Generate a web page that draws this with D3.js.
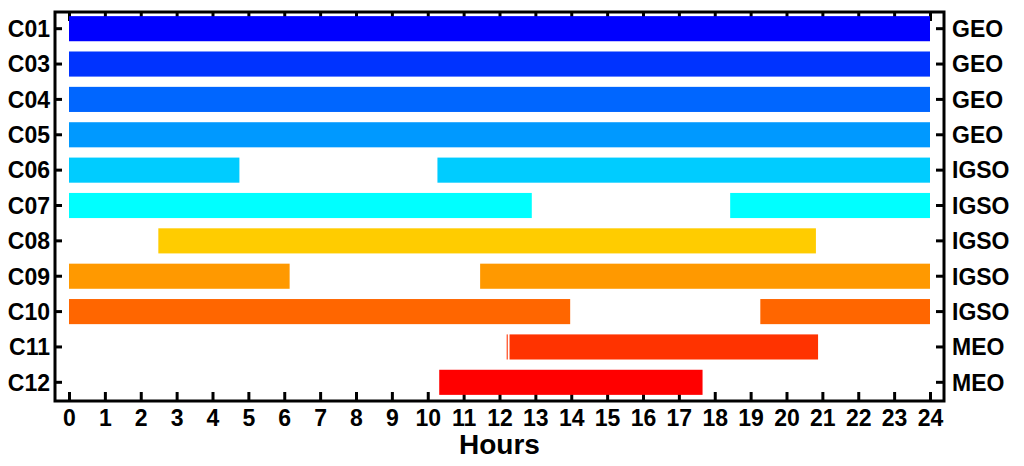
<!DOCTYPE html>
<html lang="en">
<head>
    <meta charset="UTF-8">
    <title>Satellite visibility</title>
    <script src="https://cdnjs.cloudflare.com/ajax/libs/d3/7.8.5/d3.js"></script>
    <style>
        body { margin: 0; background: #fff; }
        svg text { font-family: "Liberation Sans", Arial, sans-serif; font-weight: bold; fill: #000; }
    </style>
</head>
<body>
<svg width="1024" height="466"></svg>

<script>
    // satellites, orbit type and visible windows (hours)
    const satellites = ["C01", "C03", "C04", "C05", "C06", "C07", "C08", "C09", "C10", "C11", "C12"];
    const orbits = ["GEO", "GEO", "GEO", "GEO", "IGSO", "IGSO", "IGSO", "IGSO", "IGSO", "MEO", "MEO"];
    const windows = [
        [[0, 24]],
        [[0, 24]],
        [[0, 24]],
        [[0, 24]],
        [[0, 4.75], [10.27, 24]],
        [[0, 12.9], [18.43, 24]],
        [[2.49, 20.82]],
        [[0, 6.15], [11.46, 24]],
        [[0, 13.97], [19.27, 24]],
        [[12.2, 12.23], [12.28, 20.88]],
        [[10.32, 17.66]]
    ];
    const hourTicks = d3.range(0, 25);

    const colors = ["#0000ff", "#0033ff", "#0066ff", "#0099ff", "#00ccff", "#00ffff",
                    "#ffcc00", "#ff9900", "#ff6600", "#ff3300", "#ff0000"];

    const svg = d3.select("svg");
    const frame = {left: 55, right: 944, top: 12, bottom: 401};

    const x = d3.scaleLinear().domain([0, 24]).range([69, 930]);
    const y = d3.scaleBand().domain(satellites).range([11, 400]).padding(0);
    const barH = y.bandwidth() * 0.71;

    // axes (ticks point inward)
    const axBottom = svg.append("g")
        .attr("transform", `translate(0,${frame.bottom})`)
        .call(d3.axisBottom(x).tickValues(hourTicks).tickSizeInner(-9).tickSizeOuter(0).tickPadding(9));
    const axTop = svg.append("g")
        .attr("transform", `translate(0,${frame.top})`)
        .call(d3.axisTop(x).tickValues(hourTicks).tickSizeInner(-9).tickSizeOuter(0).tickFormat(""));
    const axLeft = svg.append("g")
        .attr("transform", `translate(${frame.left},0)`)
        .call(d3.axisLeft(y).tickSizeInner(-7).tickSizeOuter(0).tickPadding(5));
    const axRight = svg.append("g")
        .attr("transform", `translate(${frame.right},0)`)
        .call(d3.axisRight(y).tickSizeInner(-8).tickSizeOuter(0).tickPadding(8)
            .tickFormat((d, i) => orbits[i]));

    [axBottom, axTop, axLeft, axRight].forEach(g => {
        g.select(".domain").remove();
        g.selectAll(".tick line").attr("stroke", "#000").attr("stroke-width", 3);
        g.selectAll(".tick text").attr("font-size", 23).attr("fill", "#000");
    });
    axLeft.selectAll(".tick text").attr("dy", "0.36em");
    axRight.selectAll(".tick text").attr("dy", "0.36em");

    // bars
    svg.append("g")
        .selectAll("g")
        .data(satellites)
        .join("g")
        .each(function(s, i) {
            d3.select(this).selectAll("rect")
                .data(windows[i])
                .join("rect")
                .attr("x", d => x(d[0]))
                .attr("width", d => x(d[1]) - x(d[0]))
                .attr("y", y(s) + (y.bandwidth() - barH) / 2)
                .attr("height", barH)
                .attr("fill", colors[i]);
        });

    // frame
    svg.append("rect")
        .attr("x", frame.left)
        .attr("y", frame.top)
        .attr("width", frame.right - frame.left)
        .attr("height", frame.bottom - frame.top)
        .attr("fill", "none")
        .attr("stroke", "#000")
        .attr("stroke-width", 3);

    svg.append("text")
        .attr("x", (x(0) + x(24)) / 2)
        .attr("y", 454)
        .attr("text-anchor", "middle")
        .attr("font-size", 28)
        .text("Hours");
</script>
</body>
</html>
